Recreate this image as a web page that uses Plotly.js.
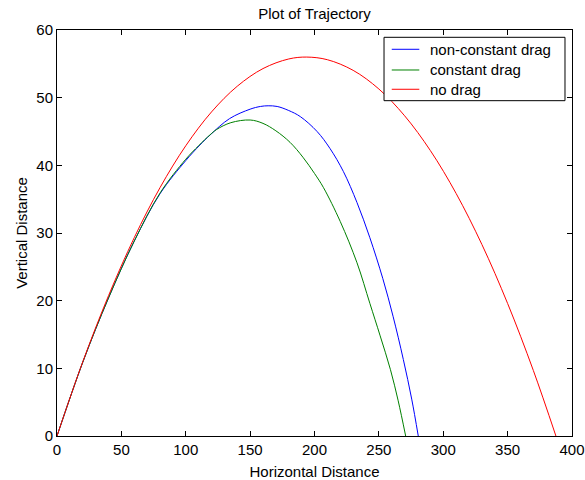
<!DOCTYPE html>
<html>
<head>
<meta charset="utf-8">
<script src="https://cdn.plot.ly/plotly-3.0.1.min.js"></script>
<style>html,body{margin:0;padding:0;background:#fff;}#chart{width:585px;height:480px;}</style>
</head>
<body>
<div id="chart"></div>
<script>
// Series
var seriesNames = ["non-constant drag", "constant drag", "no drag"];
var seriesColors = ["#0000ff", "#008000", "#ff0000"];

var nonConstX = [0, 20, 40, 60, 80, 100, 111, 119, 134, 150, 158, 164, 171, 180, 189, 202, 212, 222.4, 233, 243, 253, 261, 269, 275.5, 280.6];
var nonConstY = [0, 10.9, 20.4, 28.8, 35.8, 40.7, 43.0, 44.5, 46.9, 48.3, 48.7, 48.8, 48.7, 48.1, 47.2, 45.0, 42.5, 39.1, 34.5, 29.3, 23.3, 17.7, 11.3, 5.45, 0];

var constX = [0, 20, 40, 60, 80, 100, 110, 118.8, 124, 135, 150, 160, 170, 181, 191, 200, 207, 220, 233, 243, 251, 259, 265, 270.8];
var constY = [0, 10.9, 20.4, 28.8, 35.9, 40.9, 42.9, 44.5, 45.3, 46.3, 46.7, 46.2, 45.1, 43.4, 41.2, 38.8, 36.7, 31.7, 25.6, 19.6, 14.8, 9.8, 5.2, 0];

var noDragX = [0, 20, 40, 60, 80, 100, 120, 140, 160, 180, 194, 210, 230, 250, 270, 290, 310, 330, 350, 370, 387.5];
var noDragY = [0, 10.96, 20.73, 29.31, 36.70, 42.89, 47.89, 51.69, 54.30, 55.72, 56.0, 55.61, 54.04, 51.28, 47.32, 42.18, 35.84, 28.31, 19.58, 9.67, 0];

var xTicks = [0, 50, 100, 150, 200, 250, 300, 350, 400];
var yTicks = [0, 10, 20, 30, 40, 50, 60];

var FONT = "Liberation Sans, Arial, sans-serif";
var TXT = {family: FONT, size: 15, color: "#000"};

var xs = [nonConstX, constX, noDragX];
var ys = [nonConstY, constY, noDragY];
var traces = seriesNames.map(function (n, i) {
  return {x: xs[i], y: ys[i], name: n, mode: "lines", showlegend: false,
          line: {color: seriesColors[i], width: 1, shape: "spline", smoothing: 1}};
});

// Legend box (MATLAB style), built from the series names and colours
var legX0 = 0.635, legX1 = 0.9864, legY0 = 0.8259, legY1 = 0.982;
var legRows = [0.9525, 0.9015, 0.854];
var shapes = [{type: "rect", xref: "paper", yref: "paper", x0: legX0, x1: legX1, y0: legY0, y1: legY1,
               line: {color: "#000", width: 1}, fillcolor: "#fff", layer: "above"}];
var annotations = [];
seriesNames.forEach(function (n, i) {
  shapes.push({type: "line", xref: "paper", yref: "paper", x0: 0.650, x1: 0.7035, y0: legRows[i], y1: legRows[i],
               line: {color: seriesColors[i], width: 1}, layer: "above"});
  annotations.push({xref: "paper", yref: "paper", x: 0.7195, y: legRows[i], xanchor: "left", yanchor: "middle",
                    text: n, showarrow: false, font: TXT});
});

var axisCommon = {
  ticks: "inside", ticklen: 5, tickwidth: 1, tickcolor: "#000",
  showline: true, linecolor: "#000", linewidth: 1, mirror: "ticks",
  showgrid: false, zeroline: false, tickfont: TXT
};

var layout = {
  width: 585, height: 480,
  margin: {l: 57, r: 13, t: 30, b: 44},
  paper_bgcolor: "#fff", plot_bgcolor: "#fff",
  font: TXT,
  title: {text: "Plot of Trajectory", font: TXT, xref: "paper", x: 0.5, yref: "container", y: 0.971, yanchor: "middle"},
  xaxis: Object.assign({}, axisCommon, {range: [0, 400], tickvals: xTicks, title: {text: "Horizontal Distance", font: TXT}}),
  yaxis: Object.assign({}, axisCommon, {range: [0, 60], tickvals: yTicks, automargin: true, title: {text: "Vertical Distance", font: TXT, standoff: 5}}),
  showlegend: false,
  shapes: shapes,
  annotations: annotations
};

Plotly.newPlot("chart", traces, layout, {displayModeBar: false, staticPlot: true});
</script>
</body>
</html>
